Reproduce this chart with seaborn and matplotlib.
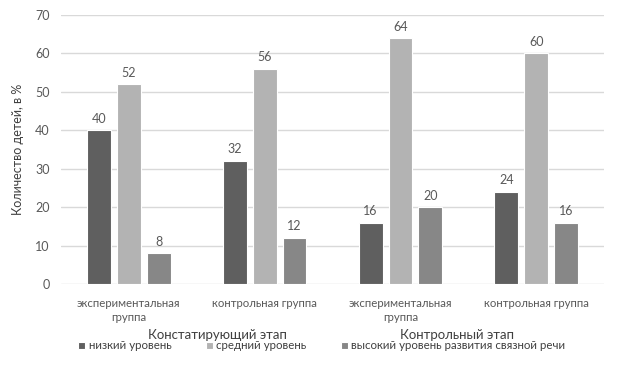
import seaborn as sns
import matplotlib.pyplot as plt
import pandas as pd

# Данные диаграммы
groups = ["эксп_конст", "контр_конст", "эксп_контр", "контр_контр"]
group_labels = ["экспериментальная\nгруппа", "контрольная группа",
                "экспериментальная\nгруппа", "контрольная группа"]
stages = ["Констатирующий этап", "Контрольный этап"]
levels = ["низкий уровень", "средний уровень",
          "высокий уровень развития связной речи"]
low = [40, 32, 16, 24]
mid = [52, 56, 64, 60]
high = [8, 12, 20, 16]

colors = ["#5f5f5f", "#b3b3b3", "#878787"]
text_col = "#595959"

df = pd.DataFrame({
    "group": groups * 3,
    "level": [levels[0]] * 4 + [levels[1]] * 4 + [levels[2]] * 4,
    "value": low + mid + high,
})

sns.set_style("white")
plt.rcParams["font.family"] = ["Lato", "DejaVu Sans"]

fig = plt.figure(figsize=(6.19, 3.9), dpi=100)
ax = fig.add_axes([0.0985, 0.2718, 0.8775, 0.6897])

sns.barplot(data=df, x="group", y="value", hue="level", order=groups,
            hue_order=levels, palette=colors, width=0.66, gap=0.2,
            saturation=1, edgecolor="white", linewidth=0.8, ax=ax,
            legend=True)

for cont in ax.containers:
    ax.bar_label(cont, padding=4, fontsize=9, color=text_col)

ax.set_ylim(0, 70)
ax.set_yticks(range(0, 71, 10))
ax.yaxis.grid(True, color="#d9d9d9", linewidth=1)
ax.set_axisbelow(True)
for s in ["top", "right", "left", "bottom"]:
    ax.spines[s].set_visible(False)
ax.tick_params(axis="y", length=0, labelsize=9, colors=text_col, pad=8)
ax.tick_params(axis="x", length=0, labelsize=8.2, colors=text_col, pad=10)
ax.set_xticks(range(4))
ax.set_xticklabels(group_labels, linespacing=1.35)
ax.set_xlabel("")
ax.set_ylabel("Количество детей, в %", fontsize=9, color="#404040", labelpad=8)

# подписи этапов
trans = ax.get_xaxis_transform()
ax.text(0.65, -0.188, stages[0], transform=trans, ha="center", va="center",
        fontsize=9.5, color="#404040")
ax.text(2.42, -0.188, stages[1], transform=trans, ha="center", va="center",
        fontsize=9.5, color="#404040")

handles, labels = ax.get_legend_handles_labels()
ax.get_legend().remove()
fig.legend(handles, labels, loc="center", bbox_to_anchor=(0.52, 0.113),
           ncol=3, frameon=False, fontsize=8.3, handlelength=0.6,
           handleheight=0.6, handletextpad=0.3, columnspacing=3.0,
           labelcolor="#404040")

plt.savefig("out.png", dpi=100)
